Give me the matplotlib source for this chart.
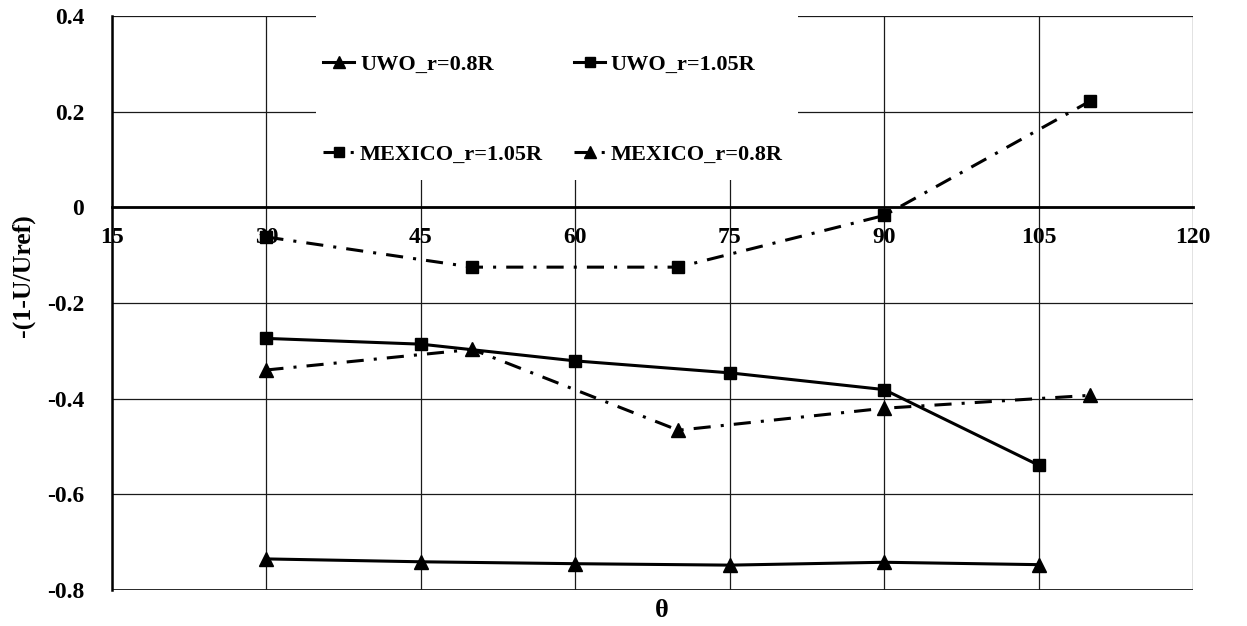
import matplotlib
matplotlib.use("Agg")
import matplotlib.pyplot as plt
from matplotlib.patches import Rectangle

plt.rcParams["font.family"] = ["Liberation Serif", "DejaVu Serif"]
plt.rcParams["font.weight"] = "bold"

# Measured azimuth positions (deg) and velocity deficit values
uwo_theta = [30, 45, 60, 75, 90, 105]
uwo_r080 = [-0.735, -0.741, -0.745, -0.748, -0.742, -0.747]
uwo_r105 = [-0.274, -0.286, -0.321, -0.346, -0.381, -0.539]

mexico_theta = [30, 50, 70, 90, 110]
mexico_r105 = [-0.062, -0.125, -0.125, -0.017, 0.222]
mexico_r080 = [-0.340, -0.297, -0.466, -0.420, -0.393]

x_ticks = [15, 30, 45, 60, 75, 90, 105, 120]
y_ticks = [-0.8, -0.6, -0.4, -0.2, 0, 0.2, 0.4]
y_tick_labels = ["-0.8", "-0.6", "-0.4", "-0.2", "0", "0.2", "0.4"]

fig = plt.figure(figsize=(12.47, 6.26), dpi=100)
ax = fig.add_axes([0.0898, 0.0575, 0.8669, 0.9169])

ax.set_xlim(15, 120)
ax.set_ylim(-0.8, 0.4)
ax.set_xticks(x_ticks)
ax.set_yticks(y_ticks)
ax.set_yticklabels(y_tick_labels)

ax.grid(True, color="#1a1a1a", linewidth=0.9, zorder=1)
ax.set_axisbelow(True)

for side in ("top", "right"):
    ax.spines[side].set_visible(False)
ax.spines["left"].set_linewidth(1.8)
ax.spines["bottom"].set_position(("data", 0))
ax.spines["bottom"].set_linewidth(2.0)
ax.axhline(-0.8, color="#1a1a1a", linewidth=1.3, zorder=1)

ax.tick_params(axis="both", length=0, labelsize=17)
ax.tick_params(axis="x", pad=14)
ax.tick_params(axis="y", pad=20)
for lab in ax.get_xticklabels() + ax.get_yticklabels():
    lab.set_fontweight("bold")

dashdot = (0, (5.6, 3.3, 1.0, 3.3))
lw = 2.2
l_uwo08, = ax.plot(uwo_theta, uwo_r080, color="black", lw=lw, marker="^",
                   ms=10, label="UWO_r=0.8R", zorder=3)
l_uwo105, = ax.plot(uwo_theta, uwo_r105, color="black", lw=lw, marker="s",
                    ms=9, label="UWO_r=1.05R", zorder=3)
l_mex105, = ax.plot(mexico_theta, mexico_r105, color="black", lw=lw,
                    ls=dashdot, marker="s", ms=9, label="MEXICO_r=1.05R",
                    zorder=3)
l_mex08, = ax.plot(mexico_theta, mexico_r080, color="black", lw=lw,
                   ls=dashdot, marker="^", ms=10, label="MEXICO_r=0.8R",
                   zorder=3)

# White panel behind the legend, covering the grid
ax.add_patch(Rectangle((0.1887, 0.715), 0.4459, 0.30, transform=ax.transAxes,
                       facecolor="white", edgecolor="none", zorder=2.6,
                       clip_on=False))

# Row-major order: two series per row
handles = [l_uwo08, l_mex105, l_uwo105, l_mex08]
leg = ax.legend(handles=handles, labels=[h.get_label() for h in handles],
                ncol=2, loc="upper left", bbox_to_anchor=(0.1955, 0.934),
                frameon=False, fontsize=16, handlelength=1.4,
                handletextpad=0.25, columnspacing=1.4, labelspacing=3.13,
                borderaxespad=0, borderpad=0, markerscale=0.8)
leg.set_zorder(4)
for t in leg.get_texts():
    t.set_fontweight("bold")

ax.set_ylabel("-(1-U/Uref)", fontsize=18.5, fontweight="bold")
ax.yaxis.set_label_coords(-0.071, 0.547)
ax.set_xlabel("θ", fontsize=19, fontweight="bold")
ax.xaxis.set_label_coords(0.509, -0.016)

fig.savefig("out.png", dpi=100)
